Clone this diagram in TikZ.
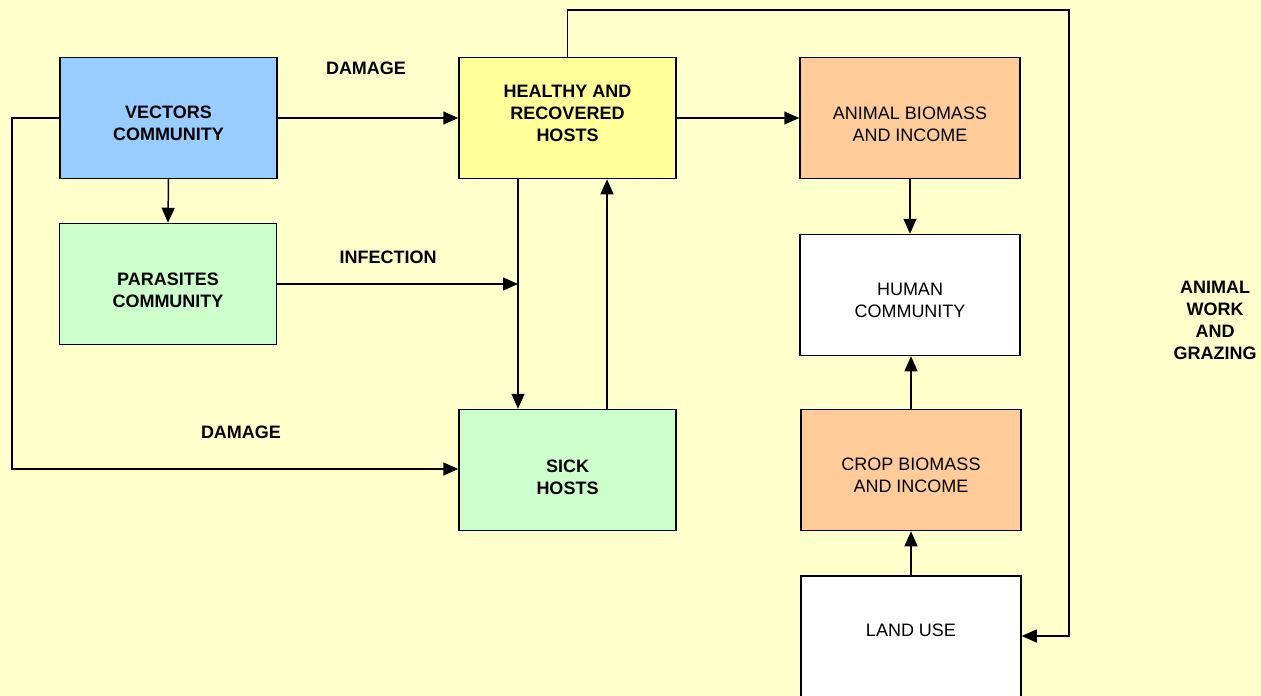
\documentclass[tikz,border=0pt]{standalone}
\usepackage{fontspec}
\setmainfont{Liberation Sans}
\usetikzlibrary{arrows.meta}
\definecolor{bgyellow}{HTML}{FFFFCC}
\definecolor{vecblue}{HTML}{99CCFF}
\definecolor{parsgreen}{HTML}{CCFFCC}
\definecolor{hostyellow}{HTML}{FFFF99}
\definecolor{bioorange}{HTML}{FFCC99}
\begin{document}
\begin{tikzpicture}[x=1pt, y=-1pt,
  box/.style={draw, line width=1.5pt, minimum width=217pt, minimum height=121pt, inner sep=0pt},
  txt/.style={align=center, font=\fontsize{18}{22}\selectfont},
  btxt/.style={txt, font=\fontsize{18}{22}\selectfont\bfseries},
  arr/.style={line width=1.5pt, -{Triangle[length=15pt, width=13pt]}}]
  \useasboundingbox[fill=bgyellow] (0,0) rectangle (1261,696);
  % boxes
  \node[box, fill=vecblue] (V) at (168.5,118) {};
  \node[box, fill=parsgreen] (P) at (168,284) {};
  \node[box, fill=hostyellow] (H) at (567.5,118) {};
  \node[box, fill=parsgreen] (S) at (567.5,470) {};
  \node[box, fill=bioorange, minimum width=220pt] (A) at (910,118) {};
  \node[box, fill=white, minimum width=220pt] (M) at (910,295) {};
  \node[box, fill=bioorange, minimum width=220pt] (C) at (911,470) {};
  \node[box, fill=white, minimum width=220pt, minimum height=128pt] (L) at (911,640) {};
  % box texts
  \node[btxt] (Vt) at ([yshift=-5pt]V.center) {VECTORS\\COMMUNITY};
  \node[btxt] (Pt) at ([yshift=-6pt]P.center) {PARASITES\\COMMUNITY};
  \node[btxt] (Ht) at ([yshift=5pt]H.center) {HEALTHY AND\\RECOVERED\\HOSTS};
  \node[btxt] (St) at ([yshift=-7pt]S.center) {SICK\\HOSTS};
  \node[txt] (At) at ([yshift=-6pt]A.center) {ANIMAL BIOMASS\\AND INCOME};
  \node[txt] (Mt) at ([yshift=-5pt]M.center) {HUMAN\\COMMUNITY};
  \node[txt] (Ct) at ([yshift=-5pt]C.center) {CROP BIOMASS\\AND INCOME};
  \node[txt] (Lt) at (911,630) {LAND USE};
  % labels
  \node[btxt] (d1) at (366,68) {DAMAGE};
  \node[btxt] (inf) at (388,257) {INFECTION};
  \node[btxt] (d2) at (241,432) {DAMAGE};
  \node[btxt] (awg) at (1215,320) {ANIMAL\\WORK\\AND\\GRAZING};
  \coordinate (j) at (518,284);
  % arrows
  \draw[arr] (V.east) -- (H.west);
  \draw[arr] (V.south) -- (P.north);
  \draw[arr] (P.east |- j) -- (j);
  \draw[arr] ([xshift=-49.5pt]H.south) -- ([xshift=-49.5pt]S.north);
  \draw[arr] ([xshift=39.5pt]S.north) -- ([xshift=39.5pt]H.south);
  \draw[arr] (V.west) -- (12,118) -- (12,469) -- (S.west |- 0,469);
  \draw[arr] (H.east) -- (A.west);
  \draw[arr] (A.south) -- (M.north);
  \draw[arr] (C.north) -- (C.north |- M.south);
  \draw[arr] (L.north) -- (C.south);
  \draw[arr] (H.north) -- (567.5,10) -- (1069,10) -- (1069,636) -- (L.east |- 0,636);
\end{tikzpicture}
\end{document}
